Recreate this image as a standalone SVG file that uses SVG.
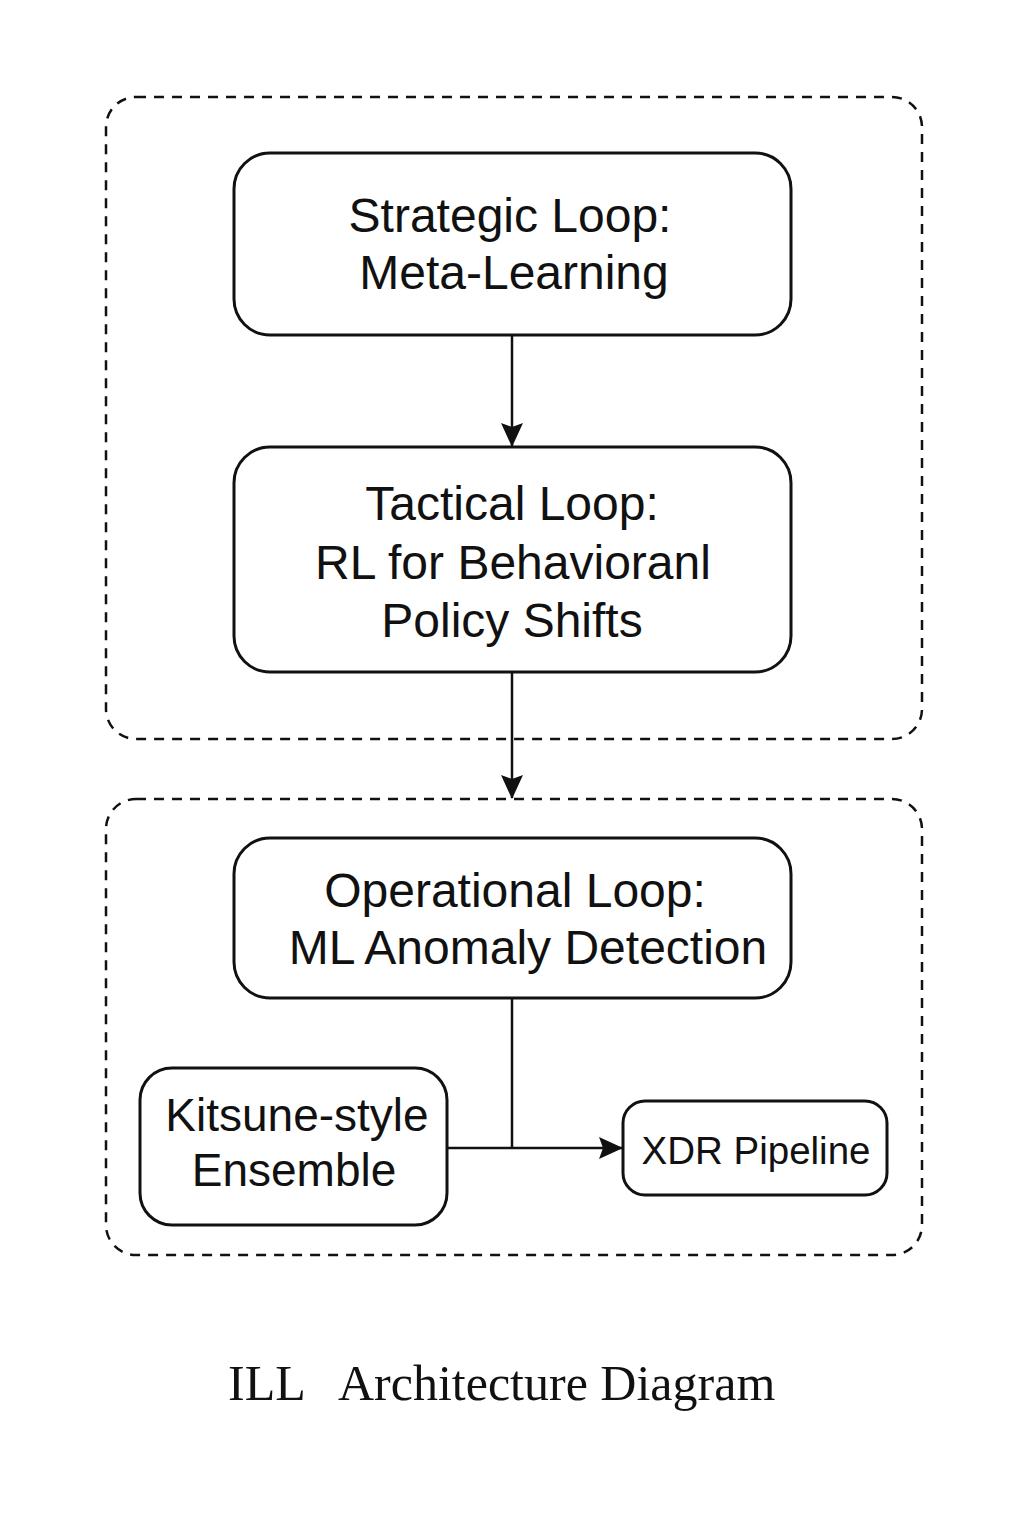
<svg xmlns="http://www.w3.org/2000/svg" width="1024" height="1536" viewBox="0 0 1024 1536">
<style>
.group{fill:none;stroke:#111;stroke-width:2.5;stroke-dasharray:10 8}
.node{fill:#fff;stroke:#111;stroke-width:3}
.t{font-family:"Liberation Sans",Arial,sans-serif;fill:#111;text-anchor:middle}
.edge{fill:none;stroke:#111;stroke-width:2.5}
</style>
<defs>
<marker id="arr" markerWidth="24" markerHeight="22" refX="23" refY="11" orient="auto" markerUnits="userSpaceOnUse" viewBox="0 0 24 22">
<path d="M0,0 L24,11 L0,22 L4,11 Z" fill="#111"/>
</marker>
</defs>
<rect width="1024" height="1536" fill="#fff"/>
<g id="group-upper"><rect class="group" x="106" y="97" width="816" height="642" rx="30"/></g>
<g id="group-lower"><rect class="group" x="106" y="799" width="816" height="456" rx="30"/></g>
<g id="connectors">
<line class="edge" x1="512" y1="336" x2="512" y2="446" marker-end="url(#arr)"/>
<line class="edge" x1="512" y1="673" x2="512" y2="798" marker-end="url(#arr)"/>
<polyline class="edge" points="512,999 512,1148"/>
<line class="edge" x1="448" y1="1148" x2="622" y2="1148" marker-end="url(#arr)"/>
</g>
<g id="strategic">
<rect class="node" x="234" y="153" width="557" height="182" rx="36"/>
<text class="t" font-size="48" x="510" y="232">Strategic Loop:</text>
<text class="t" font-size="48" x="514" y="289">Meta-Learning</text>
</g>
<g id="tactical">
<rect class="node" x="234" y="447" width="557" height="225" rx="36"/>
<text class="t" font-size="48" x="512" y="520">Tactical Loop:</text>
<text class="t" font-size="48" x="513" y="579">RL for Behavioranl</text>
<text class="t" font-size="48" x="512" y="637">Policy Shifts</text>
</g>
<g id="operational">
<rect class="node" x="234" y="838" width="557" height="160" rx="36"/>
<text class="t" font-size="48" x="515" y="907">Operational Loop:</text>
<text class="t" font-size="48" x="528" y="964">ML Anomaly Detection</text>
</g>
<g id="kitsune">
<rect class="node" x="140" y="1068" width="307" height="157" rx="32"/>
<text class="t" font-size="46" x="297" y="1131">Kitsune-style</text>
<text class="t" font-size="46" x="294" y="1186">Ensemble</text>
</g>
<g id="xdr">
<rect class="node" x="623" y="1101" width="264" height="94" rx="22"/>
<text class="t" font-size="38.5" x="756" y="1164">XDR Pipeline</text>
</g>
<g id="title" font-family="'Liberation Serif','Times New Roman',serif" font-size="50" fill="#111">
<text x="228" y="1400">ILL</text>
<text x="338" y="1400">Architecture Diagram</text>
</g>
</svg>
